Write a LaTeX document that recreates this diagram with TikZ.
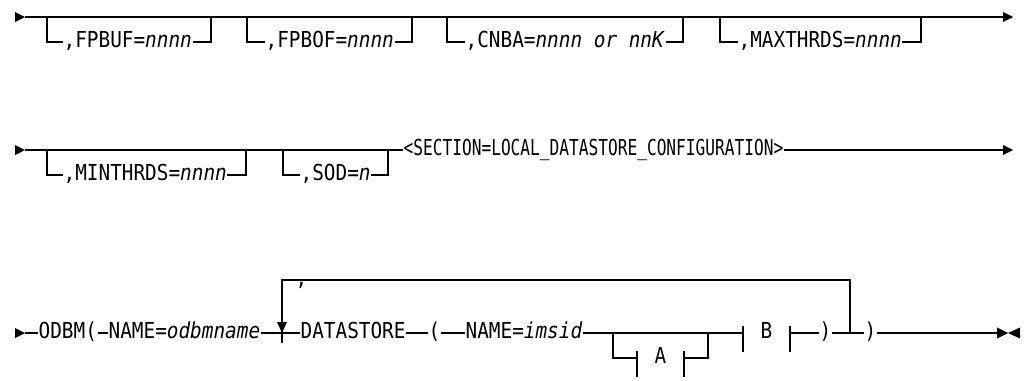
\documentclass[tikz,border=0pt]{standalone}
\usepackage{fontspec}
\newfontfamily\synfont[FakeStretch=0.88]{DejaVu Sans Mono}
\newfontfamily\synfontn[FakeStretch=0.735]{DejaVu Sans Mono}
\begin{document}
\begin{tikzpicture}[x=1pt,y=-1pt,line width=1.3pt,
  lbl/.style={inner sep=0pt,anchor=west,font=\synfont\fontsize{22}{24}\selectfont,text height=16pt,text depth=5pt},
  lbln/.style={lbl,font=\synfontn\fontsize{22}{24}\selectfont},
  frag/.style={lbl,anchor=center}]
\useasboundingbox (0,0) rectangle (1024,380);
% ---------------- Row 1 ----------------
\coordinate (r1s) at (25,17);
\coordinate (r1e) at (1003,17);
\fill (r1s) -- ++(-10,-5) -- ++(0,10) -- cycle;
\fill (r1e) ++(10,0) -- ++(-10,-5) -- ++(0,10) -- cycle;
\draw (r1s) -- (r1e);
\node[lbl] (fpbuf) at (63,42) {,FPBUF=\textit{nnnn}};
\node[lbl] (fpbof) at (265,42) {,FPBOF=\textit{nnnn}};
\node[lbl] (cnba) at (465,42) {,CNBA=\textit{nnnn or nnK}};
\node[lbl] (maxt) at (738,42) {,MAXTHRDS=\textit{nnnn}};
\coordinate (b1l) at (47,17);  \coordinate (b1r) at (211,17);
\coordinate (b2l) at (247,17); \coordinate (b2r) at (412,17);
\coordinate (b3l) at (447,17); \coordinate (b3r) at (683,17);
\coordinate (b4l) at (720,17); \coordinate (b4r) at (921,17);
\draw (b1l) |- (fpbuf.west);  \draw (fpbuf.east) -| (b1r);
\draw (b2l) |- (fpbof.west);  \draw (fpbof.east) -| (b2r);
\draw (b3l) |- (cnba.west);   \draw (cnba.east) -| (b3r);
\draw (b4l) |- (maxt.west);   \draw (maxt.east) -| (b4r);
% ---------------- Row 2 ----------------
\coordinate (r2s) at (25,150);
\coordinate (r2e) at (1003,150);
\fill (r2s) -- ++(-10,-5) -- ++(0,10) -- cycle;
\fill (r2e) ++(10,0) -- ++(-10,-5) -- ++(0,10) -- cycle;
\node[lbl] (mint) at (63,175) {,MINTHRDS=\textit{nnnn}};
\node[lbl] (sod) at (300,175) {,SOD=\textit{n}};
\node[lbln] (sect) at (403,150) {<SECTION=LOCAL\_DATASTORE\_CONFIGURATION>};
\coordinate (b5l) at (47,150);  \coordinate (b5r) at (246,150);
\coordinate (b6l) at (283,150); \coordinate (b6r) at (388,150);
\draw (r2s) -- (sect.west);
\draw (sect.east) -- (r2e);
\draw (b5l) |- (mint.west); \draw (mint.east) -| (b5r);
\draw (b6l) |- (sod.west);  \draw (sod.east) -| (b6r);
% ---------------- Row 3 ----------------
\coordinate (r3s) at (25,333);
\coordinate (r3e) at (997,333);
\fill (r3s) -- ++(-10,-5) -- ++(0,10) -- cycle;
\fill (r3e) ++(11,0) -- ++(-11,-5.5) -- ++(0,11) -- cycle;
\fill (r3e) ++(11,0) -- ++(12,-5.5) -- ++(0,11) -- cycle;
\node[lbl] (odbm) at (38,333) {ODBM(};
\node[lbl] (nm1) at (108,333) {NAME=\textit{odbmname}};
\node[lbl] (ds) at (300,333) {DATASTORE};
\node[lbl] (lp) at (428,333) {(};
\node[lbl] (nm2) at (465,333) {NAME=\textit{imsid}};
\node[lbl] (cm) at (295,280) {,};
\node[frag] (fa) at (660.5,358) {A};
\node[frag] (fb) at (766.5,333) {B};
\node[lbl] (rp1) at (819,333) {)};
\node[lbl] (rp2) at (864,333) {)};
\coordinate (abl) at (637,358); \coordinate (abr) at (684,358);
\coordinate (bbl) at (743,333); \coordinate (bbr) at (790,333);
\coordinate (ja1) at (613,333); \coordinate (ja2) at (708,333);
\coordinate (jl) at (850,333);
\coordinate (lc2) at (850,280); \coordinate (lc1) at (282,280);
\coordinate (lt) at (282,333);
\draw (r3s) -- (odbm.west);
\draw (odbm.east) -- (nm1.west);
\draw (nm1.east) -- (ds.west);
\draw (ds.east) -- (lp.west);
\draw (lp.east) -- (nm2.west);
\draw (nm2.east) -- (bbl);
\draw (bbr) -- (rp1.west);
\draw (rp1.east) -- (rp2.west);
\draw (rp2.east) -- (r3e);
% fragment A (optional)
\draw (ja1) |- (abl);
\draw (abr) -| (ja2);
\draw (abl) ++(0,-7) -- ++(0,26);
\draw (abr) ++(0,-7) -- ++(0,26);
% fragment B
\draw (bbl) ++(0,-7) -- ++(0,26);
\draw (bbr) ++(0,-7) -- ++(0,26);
% repeat loop
\draw (jl) -- (lc2) -- (lc1) -- ([yshift=-10pt]lt);
\fill (lt) -- ++(-5,-11) -- ++(10,0) -- cycle;
\end{tikzpicture}
\end{document}
